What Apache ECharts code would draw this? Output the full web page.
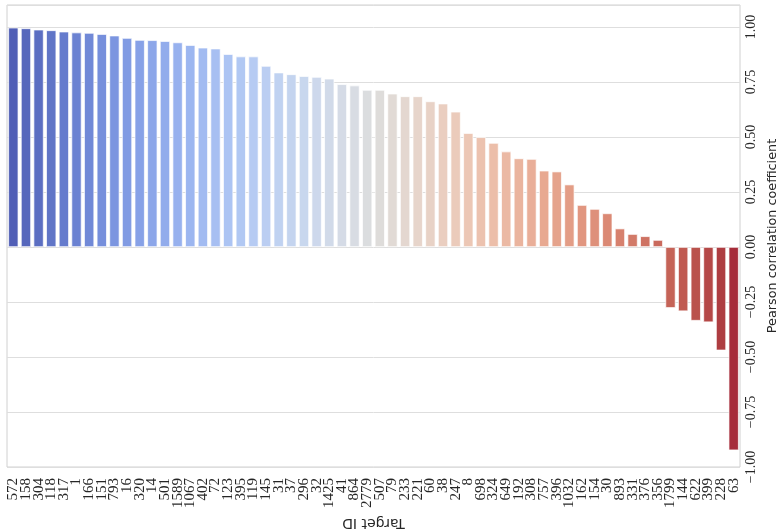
<!DOCTYPE html>
<html><head><meta charset="utf-8">
<script src="https://cdn.jsdelivr.net/npm/echarts@6/dist/echarts.min.js"></script>
<style>html,body{margin:0;padding:0;background:#fff;overflow:hidden}#c{width:780px;height:530px}</style>
</head><body><div id="c"></div>
<script>
// ---- data ----
const targetIds = ['572','158','304','118','317','1','166','151','793','16','320','14','501','1589','1067','402','72','123','395','119','145','31','37','296','32','1425','41','864','2779','507','79','233','221','60','38','247','8','698','324','649','192','308','757','396','1032','162','154','30','893','331','376','356','1799','144','622','399','228','63'];
const pearson = [0.997,0.994,0.988,0.985,0.979,0.975,0.973,0.968,0.961,0.950,0.941,0.940,0.936,0.930,0.918,0.906,0.902,0.877,0.866,0.866,0.823,0.793,0.785,0.777,0.773,0.765,0.740,0.734,0.714,0.714,0.697,0.685,0.685,0.662,0.652,0.615,0.518,0.499,0.473,0.434,0.403,0.400,0.347,0.343,0.284,0.191,0.173,0.153,0.084,0.059,0.049,0.032,-0.277,-0.292,-0.335,-0.342,-0.470,-0.924];
const valueTicks = [-1.00,-0.75,-0.50,-0.25,0.00,0.25,0.50,0.75,1.00];

// ---- coolwarm colormap (Moreland) anchors ----
const cw = [[59,76,192],[68,90,204],[77,104,215],[87,117,225],[98,130,234],[108,142,241],[119,154,247],[130,165,251],[141,176,254],[152,185,255],[163,194,255],[174,201,253],[184,208,249],[194,213,244],[204,217,238],[213,219,230],[221,221,221],[229,216,209],[236,211,197],[241,204,185],[245,196,173],[247,187,160],[247,177,148],[247,166,135],[244,154,123],[241,141,111],[236,127,99],[229,112,88],[222,96,77],[213,80,66],[203,62,56],[192,40,47],[180,4,38]];
function coolwarm(t){
  const p = t*(cw.length-1); const i = Math.min(Math.floor(p), cw.length-2); const f = p-i;
  return [0,1,2].map(k => (cw[i][k]*(1-f)+cw[i+1][k]*f)/255);
}
function desaturate(rgb, prop){
  const [r,g,b] = rgb; const mx = Math.max(r,g,b), mn = Math.min(r,g,b);
  const l = (mx+mn)/2; if (mx===mn) return rgb;
  const d = mx-mn; let s = l>0.5 ? d/(2-mx-mn) : d/(mx+mn);
  let h; if (mx===r) h = ((g-b)/d)%6; else if (mx===g) h = (b-r)/d+2; else h = (r-g)/d+4; h/=6; if(h<0)h+=1;
  s *= prop;
  const q = l<0.5 ? l*(1+s) : l+s-l*s; const pp = 2*l-q;
  const hue = (t)=>{ if(t<0)t+=1; if(t>1)t-=1; if(t<1/6) return pp+(q-pp)*6*t; if(t<1/2) return q; if(t<2/3) return pp+(q-pp)*(2/3-t)*6; return pp; };
  return [hue(h+1/3),hue(h),hue(h-1/3)];
}
const n = targetIds.length;
const palette = targetIds.map((_,i)=>{
  const c = desaturate(coolwarm((i+1)/(n+1)), 0.75);
  return 'rgb(' + c.map(v=>Math.round(v*255)).join(',') + ')';
});

function fmt(v){
  const hit = valueTicks.some(t => Math.abs(t - v) < 1e-6);
  if (!hit) return '';
  return (v < -1e-9 ? '\u2212' : '') + Math.abs(v).toFixed(2);
}

const chart = echarts.init(document.getElementById('c'), null, {renderer:'canvas'});
chart.setOption({
  animation: false,
  backgroundColor: '#ffffff',
  grid: {left: 7, right: 40, top: 5, bottom: 63, show: true, borderColor: '#d0d0d0', borderWidth: 1,
         containLabel: false, outerBoundsMode: 'none'},
  xAxis: {
    type: 'category', data: targetIds,
    axisLine: {show: false, onZero: false}, axisTick: {show: false},
    axisLabel: {rotate: 90, interval: 0, margin: 11, fontFamily: '"Liberation Serif", serif', fontSize: 15, color: '#262626'},
    splitLine: {show: false},
    name: 'Target ID', nameLocation: 'middle', nameGap: 49, nameRotate: 180,
    nameTextStyle: {fontFamily: 'DejaVu Sans', fontSize: 14, color: '#262626'}
  },
  yAxis: {
    type: 'value', position: 'right', min: -1, max: 1.1, interval: 0.25,
    axisLine: {show: false}, axisTick: {show: false},
    splitLine: {show: true, lineStyle: {color: '#dedede', width: 1}},
    axisLabel: {rotate: 90, margin: 4, fontFamily: '"Liberation Serif", serif', fontSize: 14, color: '#262626', formatter: fmt},
    name: 'Pearson correlation coefficient', nameLocation: 'middle', nameGap: 22, nameRotate: 90,
    nameTextStyle: {fontFamily: 'DejaVu Sans', fontSize: 12.8, color: '#262626'}
  },
  series: [{
    type: 'bar', data: pearson, barWidth: '80%',
    itemStyle: {color: (p) => palette[p.dataIndex], borderColor: '#ffffff', borderWidth: 0.7}
  }]
});
</script></body></html>
